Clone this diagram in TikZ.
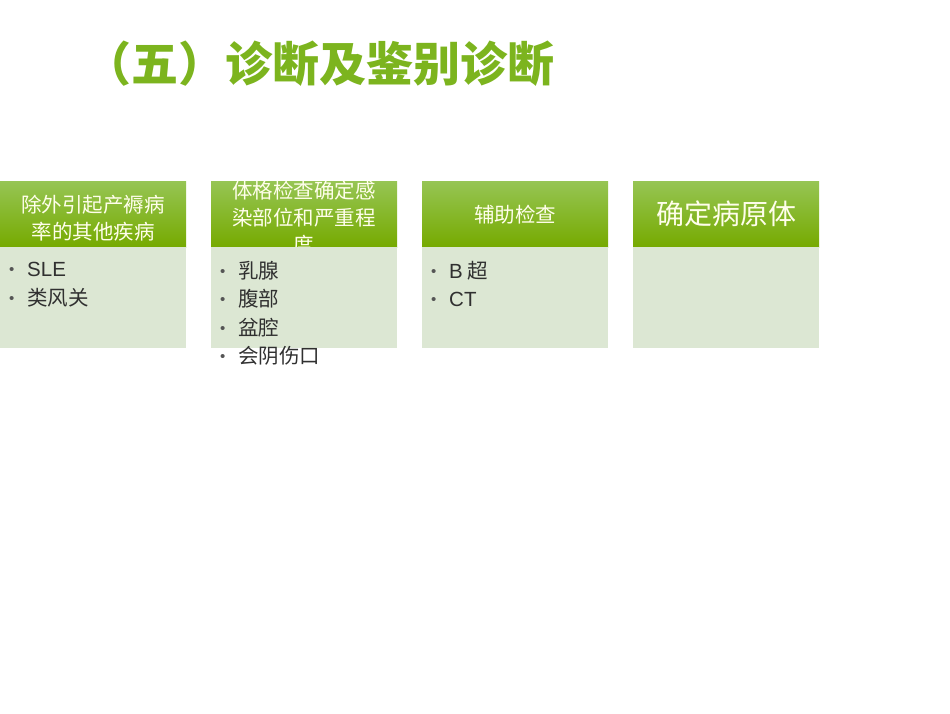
\documentclass[tikz,border=0pt]{standalone}
\usepackage{fontspec}
\setmainfont{Noto Sans CJK SC}
\newfontfamily\latinfont{Liberation Sans}
\usepackage{tikz}
\usetikzlibrary{positioning}

\definecolor{headtop}{HTML}{96C554}
\definecolor{headmid}{HTML}{80B700}
\definecolor{headbot}{HTML}{76AA00}
\definecolor{panelfill}{HTML}{DCE7D3}
\definecolor{titlegreen}{HTML}{7CB41E}
\definecolor{itemtext}{HTML}{303030}
\definecolor{bulletgray}{HTML}{555555}

\newcommand{\itm}{\makebox[18pt][l]{\raisebox{2pt}{\textcolor{bulletgray}{\latinfont\fontsize{15}{15}\selectfont •}}}}

\begin{document}
\begin{tikzpicture}
    [
    x=1pt,y=-1pt,
    header/.style={rectangle,inner sep=0pt,minimum width=186pt,minimum height=66pt,
      top color=headtop,middle color=headmid,bottom color=headbot},
    panel/.style={rectangle,fill=panelfill,inner sep=0pt,minimum width=186pt,minimum height=101pt},
    headtext/.style={text=white!92!yellow,align=center,inner sep=0pt,
      font=\fontsize{20.5}{27}\selectfont},
    items/.style={anchor=north west,align=left,inner sep=0pt,text=itemtext,
      font=\fontsize{20.5}{28.5}\selectfont}
    ]
    \useasboundingbox (0,0) rectangle (950,713);
    \node (title) at (84,81) [anchor=base west,inner sep=0pt,text=titlegreen,
      font=\fontsize{47}{47}\selectfont\bfseries] {（五）诊断及鉴别诊断};
    \node (head1) at (93,214) [header] {};
    \node (head2) at (304,214) [header] {};
    \node (head3) at (515,214) [header] {};
    \node (head4) at (726,214) [header] {};
    \node (head1text) at (head1) [headtext,yshift=-4pt] {除外引起产褥病\\率的其他疾病};
    \node (head2text) at (head2) [headtext,yshift=-4pt] {体格检查确定感\\染部位和严重程\\度};
    \node (head3text) at (head3) [headtext,yshift=-1pt] {辅助检查};
    \node (head4text) at (head4) [headtext,font=\fontsize{28}{30}\selectfont] {确定病原体};
    \node (body1) at (93,297.5) [panel] {};
    \node (body2) at (304,297.5) [panel] {};
    \node (body3) at (515,297.5) [panel] {};
    \node (body4) at (726,297.5) [panel] {};
    \node (list1) at (9,262) [items] {\itm{\latinfont SLE}\\\itm 类风关};
    \node (list2) at (220,261) [items] {\itm 乳腺\\\itm 腹部\\\itm 盆腔\\\itm 会阴伤口};
    \node (list3) at (431,261) [items] {\itm{\latinfont B} 超\\\itm{\latinfont CT}};
  \end{tikzpicture}
\end{document}
